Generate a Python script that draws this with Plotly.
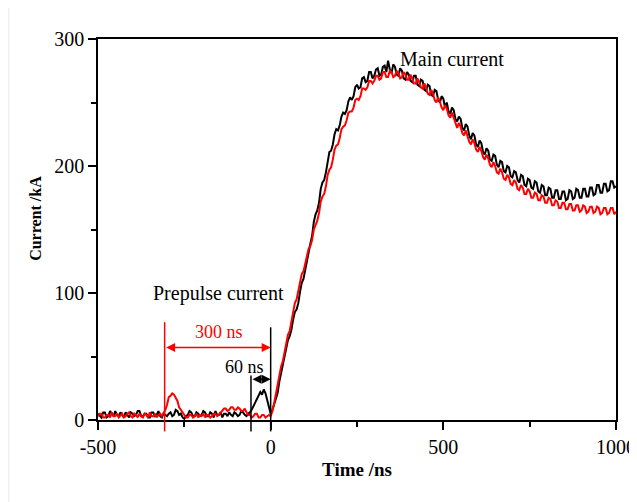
import plotly.graph_objects as go

# time axis (ns), one sample every 5 ns
time_ns = list(range(-500, 1001, 5))

# black shot (kA), one row per 100 ns
current_black = [
    5, 3, 2, 6, 6, 2, 3, 7, 5, 3, 7, 4, 3, 6, 4, 2, 6, 4, 2, 6,
    5, 3, 4, 7, 7, 3, 3, 5, 5, 2, 2, 6, 6, 3, 4, 7, 3, 2, 5, 4,
    3, 5, 6, 3, 4, 8, 7, 4, 5, 2, 1, 3, 4, 7, 6, 3, 3, 6, 5, 3,
    4, 7, 6, 3, 3, 6, 5, 2, 7, 4, 4, 6, 2, 5, 5, 3, 6, 4, 3, 6,
    5, 3, 4, 7, 6, 4, 3, 5, 6, 8, 11, 14, 16, 20, 22, 20, 24, 21, 15, 9,
    5, 8, 13, 16, 21, 30, 37, 41, 48, 57, 63, 66, 71, 79, 85, 87, 92, 101, 108, 111,
    118, 128, 135, 139, 145, 156, 162, 165, 171, 182, 187, 189, 195, 205, 211, 212, 217, 225, 229, 228,
    232, 239, 242, 241, 244, 251, 254, 252, 255, 262, 264, 261, 262, 269, 270, 266, 267, 274, 274, 269,
    271, 276, 277, 271, 272, 278, 279, 274, 283, 276, 273, 280, 278, 272, 271, 277, 275, 269, 268, 274,
    272, 267, 266, 271, 271, 264, 263, 268, 267, 260, 259, 264, 263, 256, 255, 260, 259, 252, 250, 255,
    253, 246, 250, 243, 241, 246, 244, 237, 235, 239, 237, 230, 228, 233, 231, 224, 221, 226, 224, 217,
    215, 220, 218, 211, 209, 214, 212, 205, 204, 209, 208, 201, 199, 204, 203, 196, 195, 200, 199, 192,
    191, 196, 195, 189, 187, 193, 192, 185, 184, 190, 189, 183, 182, 188, 187, 180, 179, 185, 184, 177,
    177, 183, 182, 175, 175, 181, 181, 174, 174, 180, 180, 173, 174, 181, 180, 174, 175, 182, 181, 175,
    175, 182, 182, 176, 176, 183, 183, 177, 178, 185, 185, 179, 179, 186, 186, 180, 181, 188, 188, 183,
    184,
]

# red shot (kA)
current_red = [
    3, 5, 5, 2, 2, 4, 4, 2, 6, 3, 3, 5, 2, 4, 5, 2, 3, 5, 6, 3,
    2, 5, 4, 2, 5, 3, 2, 5, 4, 2, 6, 3, 3, 5, 2, 4, 5, 3, 5, 8,
    12, 18, 19, 21, 20, 17, 15, 10, 8, 5, 3, 2, 2, 4, 4, 2, 3, 5, 2, 4,
    3, 5, 2, 4, 4, 2, 3, 5, 5, 3, 4, 6, 7, 9, 9, 7, 8, 10, 10, 8,
    8, 10, 9, 7, 7, 9, 6, 4, 4, 2, 3, 5, 5, 2, 2, 4, 4, 2, 3, 4,
    3, 7, 13, 21, 26, 35, 42, 46, 53, 62, 67, 70, 77, 86, 92, 95, 102, 110, 115, 117,
    123, 131, 135, 137, 142, 150, 154, 157, 163, 172, 176, 178, 184, 193, 197, 199, 205, 213, 216, 217,
    222, 229, 231, 232, 236, 242, 243, 243, 246, 252, 253, 252, 255, 261, 261, 260, 262, 267, 267, 265,
    267, 271, 271, 268, 269, 274, 274, 270, 270, 275, 274, 270, 271, 275, 273, 269, 270, 274, 272, 268,
    268, 272, 269, 265, 265, 269, 266, 262, 261, 265, 262, 257, 256, 260, 257, 252, 250, 254, 251, 246,
    244, 248, 245, 240, 238, 242, 238, 233, 230, 234, 231, 226, 224, 228, 224, 219, 217, 221, 218, 213,
    211, 215, 212, 207, 205, 209, 206, 201, 199, 203, 200, 195, 194, 198, 195, 190, 189, 193, 191, 186,
    185, 189, 187, 182, 181, 185, 183, 178, 178, 182, 180, 175, 175, 179, 178, 173, 173, 177, 176, 171,
    171, 175, 174, 169, 169, 173, 172, 167, 167, 171, 171, 166, 166, 170, 170, 165, 165, 169, 169, 164,
    165, 169, 168, 163, 164, 168, 168, 163, 164, 168, 167, 162, 163, 167, 167, 162, 163, 167, 167, 162,
    164,
]

# x ticks (plain hyphen as in the original)
x_tickvals = [-500, 0, 500, 1000]
x_ticktext = ["-500", "0", "500", "1000"]

# marker positions (ns) and levels (kA)
red_mark_t = -307
black_mark_t = -57
zero_mark_t = 0
red_arrow_level = 57
black_arrow_level = 32

X_RANGE = [-500, 1000]
Y_RANGE = [0, 300]
SERIF = "Liberation Serif, Times New Roman, serif"

fig = go.Figure()
fig.add_trace(go.Scatter(x=time_ns, y=current_black, mode="lines",
                         line=dict(color="black", width=2)))
fig.add_trace(go.Scatter(x=time_ns, y=current_red, mode="lines",
                         line=dict(color="red", width=2)))


def xd(t):
    return (t - X_RANGE[0]) / (X_RANGE[1] - X_RANGE[0])


def yd(v):
    return (v - Y_RANGE[0]) / (Y_RANGE[1] - Y_RANGE[0])


# vertical marker lines (they run a bit below the axis, so use domain refs)
for t, top, col in [(red_mark_t, 77, "red"), (zero_mark_t, 73, "black"),
                    (black_mark_t, 35, "black")]:
    fig.add_shape(type="line", xref="x domain", yref="y domain",
                  x0=xd(t), x1=xd(t), y0=yd(-9), y1=yd(top),
                  line=dict(color=col, width=1.5))

# double-headed arrows
fig.add_annotation(x=zero_mark_t, y=red_arrow_level, ax=red_mark_t, ay=red_arrow_level,
                   xref="x", yref="y", axref="x", ayref="y", text="",
                   showarrow=True, arrowside="end+start", arrowhead=2, arrowsize=1.2,
                   arrowwidth=1.5, arrowcolor="red")
fig.add_annotation(x=zero_mark_t, y=black_arrow_level, ax=black_mark_t, ay=black_arrow_level,
                   xref="x", yref="y", axref="x", ayref="y", text="",
                   showarrow=True, arrowside="end+start", arrowhead=2, arrowsize=1.2,
                   arrowwidth=1.5, arrowcolor="black")

fig.add_annotation(x=-150, y=69, text="300 ns", showarrow=False,
                   font=dict(family=SERIF, size=18, color="red"))
fig.add_annotation(x=-76, y=42, text="60 ns", showarrow=False,
                   font=dict(family=SERIF, size=18, color="black"))
fig.add_annotation(x=-150, y=99.5, text="Prepulse current", showarrow=False,
                   font=dict(family=SERIF, size=20, color="black"))
fig.add_annotation(x=524, y=284, text="Main current", showarrow=False,
                   font=dict(family=SERIF, size=20, color="black"))

# y title sits a little above the axis middle in the original
fig.add_annotation(xref="paper", yref="paper", x=-0.122, y=0.53, textangle=-90,
                   xanchor="center", yanchor="middle",
                   text="<b>Current /kA</b>", showarrow=False,
                   font=dict(family=SERIF, size=16, color="black"))

# faint page edge on the left
fig.add_shape(type="line", xref="paper", yref="paper", x0=-0.172, x1=-0.172,
              y0=-0.22, y1=1.11, line=dict(color="#e8e8e8", width=1))

axis_common = dict(
    showline=True, linecolor="black", linewidth=1.5, mirror=True,
    ticks="outside", ticklen=8, tickwidth=1.5, tickcolor="black",
    showgrid=False, zeroline=False,
    tickfont=dict(family=SERIF, size=20, color="black"),
)

fig.update_xaxes(range=X_RANGE, tickmode="array", tickvals=x_tickvals, ticktext=x_ticktext,
                 minor=dict(tickmode="array", tickvals=[-250, 250, 750], ticks="outside",
                            ticklen=5, tickwidth=1.5, tickcolor="black"),
                 title=dict(text="<b>Time /ns</b>", standoff=6,
                            font=dict(family=SERIF, size=19, color="black")),
                 **axis_common)
fig.update_yaxes(range=Y_RANGE, tick0=0, dtick=100,
                 minor=dict(dtick=50, ticks="outside", ticklen=5, tickwidth=1.5,
                            tickcolor="black"),
                 **axis_common)

# page body has an 8 px margin, so the figure is sized to fit inside the window
fig.update_layout(
    width=629, height=494,
    margin=dict(l=90, r=21, t=31, b=82, autoexpand=False),
    paper_bgcolor="white", plot_bgcolor="white",
    showlegend=False,
)

fig.write_html("out.html")
